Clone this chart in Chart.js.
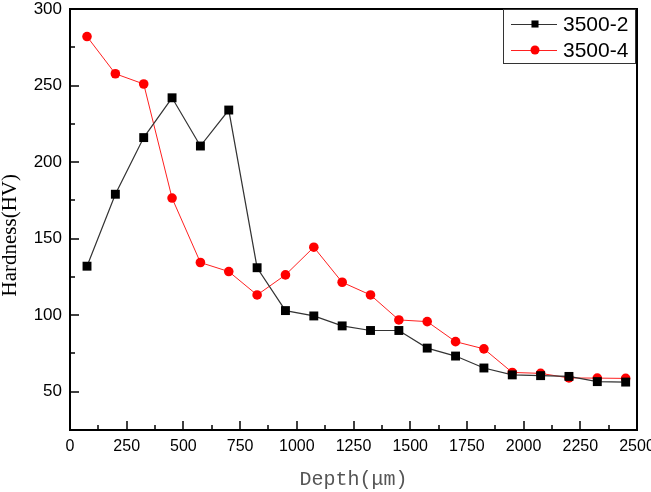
<!DOCTYPE html>
<html>
<head>
<meta charset="utf-8">
<script src="https://cdn.jsdelivr.net/npm/chart.js@4/dist/chart.umd.min.js"></script>
<style>
html,body{margin:0;padding:0;background:#fff;}
#wrap{width:651px;height:492px;position:relative;}
</style>
</head>
<body>
<div id="wrap"><canvas id="c" width="651" height="492"></canvas></div>
<script>
const depth = [75,200,325,450,575,700,825,950,1075,1200,1325,1450,1575,1700,1825,1950,2075,2200,2325,2450];
const hv_3500_2 = [132,179,216,242,210.5,234,131,103,99.5,93,90,90,78.5,73.3,65.5,61,60.5,60,56.6,56.3];
const hv_3500_4 = [282,257.7,251,176.5,134.4,128.5,113.2,126.3,144.4,121.5,113.2,96.9,95.8,82.7,78,62.6,62,59,58.9,58.7];
const seriesLabels = ['3500-2','3500-4'];
const xTitle = 'Depth(\u03bcm)';
const yTitle = 'Hardness(HV)';

function pts(ys){ return depth.map((d,i)=>({x:d,y:ys[i]})); }

const framePlugin = {
  id:'frame',
  afterDatasetsDraw(chart){
    const ctx = chart.ctx, a = chart.chartArea;
    const xs = chart.scales.x, ys = chart.scales.y;
    ctx.save();
    ctx.strokeStyle = '#000';
    ctx.lineWidth = 2;
    ctx.strokeRect(a.left, a.top, a.right-a.left, a.bottom-a.top);
    ctx.lineWidth = 1.5;
    ctx.beginPath();
    for(let v=0; v<=2500; v+=125){
      const px = Math.round(xs.getPixelForValue(v));
      const len = (v%250===0)?9:5;
      ctx.moveTo(px, a.bottom); ctx.lineTo(px, a.bottom-len);
    }
    for(let v=25; v<=300; v+=25){
      const py = Math.round(ys.getPixelForValue(v));
      const len = (v%50===0)?9:5;
      ctx.moveTo(a.left, py); ctx.lineTo(a.left+len, py);
    }
    ctx.stroke();
    ctx.restore();
  },
  afterDraw(chart){
    const ctx = chart.ctx;
    const bx=503, by=9, bw=132, bh=54;
    ctx.save();
    ctx.fillStyle='#fff';
    ctx.fillRect(bx,by,bw,bh);
    ctx.strokeStyle='#333';
    ctx.lineWidth=1;
    ctx.strokeRect(bx+0.5,by+0.5,bw,bh);
    const rows=[24,50];
    chart.data.datasets.forEach((ds,i)=>{
      const y=rows[i];
      ctx.strokeStyle=ds.borderColor;
      ctx.lineWidth=1;
      ctx.beginPath();
      ctx.moveTo(511,y+0.5); ctx.lineTo(557,y+0.5);
      ctx.stroke();
      ctx.fillStyle=ds.pointBackgroundColor;
      ctx.strokeStyle=ds.pointBorderColor;
      Chart.helpers.drawPoint(ctx,{pointStyle:ds.pointStyle,radius:i===0?5:4.5,borderWidth:0},535,y);
      ctx.fillStyle='#000';
      ctx.font='21px "Liberation Sans", Arial, sans-serif';
      ctx.textBaseline='middle';
      ctx.textAlign='left';
      ctx.fillText(ds.label,563,y+1);
    });
    ctx.restore();
  }
};

new Chart(document.getElementById('c'),{
  type:'line',
  data:{
    datasets:[
      {label:seriesLabels[0],data:pts(hv_3500_2),borderColor:'#333333',borderWidth:1.2,
       pointStyle:'rect',pointRadius:6.3,pointBackgroundColor:'#000',pointBorderColor:'#000',pointBorderWidth:0,tension:0},
      {label:seriesLabels[1],data:pts(hv_3500_4),borderColor:'#ff2020',borderWidth:1,
       pointStyle:'circle',pointRadius:4.8,pointBackgroundColor:'#ff0000',pointBorderColor:'#ff0000',pointBorderWidth:0,tension:0}
    ]
  },
  options:{
    responsive:false,
    animation:false,
    layout:{padding:{top:9,right:14,left:0,bottom:0}},
    plugins:{legend:{display:false},tooltip:{enabled:false}},
    scales:{
      x:{type:'linear',min:0,max:2500,
        grid:{display:false,drawTicks:false},
        border:{display:false},
        ticks:{stepSize:250,padding:7,maxRotation:0,autoSkip:false,color:'#000',
          font:{family:'"Liberation Sans", Arial, sans-serif',size:16},
          callback:(v)=>String(v)},
        title:{display:true,text:xTitle,color:'#555',padding:{top:0,bottom:0},
          font:{family:'"Liberation Mono", "DejaVu Sans Mono", monospace',size:20,lineHeight:1.2}},
        afterFit(s){ s.height=62; s.paddingLeft=0; s.paddingRight=0; }
      },
      y:{type:'linear',min:25,max:300,
        grid:{display:false,drawTicks:false},
        border:{display:false},
        ticks:{stepSize:25,padding:8,autoSkip:false,color:'#000',
          font:{family:'"Liberation Sans", Arial, sans-serif',size:17},
          callback:(v)=> (v%50===0 ? String(v) : '')},
        title:{display:true,text:yTitle+'\u00a0\u00a0\u00a0\u00a0\u00a0\u00a0',color:'#000',padding:{top:0,bottom:0},
          font:{family:'"Liberation Serif", "Times New Roman", serif',size:21,lineHeight:1.0}},
        afterFit(s){ s.width=70; s.paddingTop=0; s.paddingBottom=0; }
      }
    }
  },
  plugins:[framePlugin]
});
</script>
</body>
</html>
